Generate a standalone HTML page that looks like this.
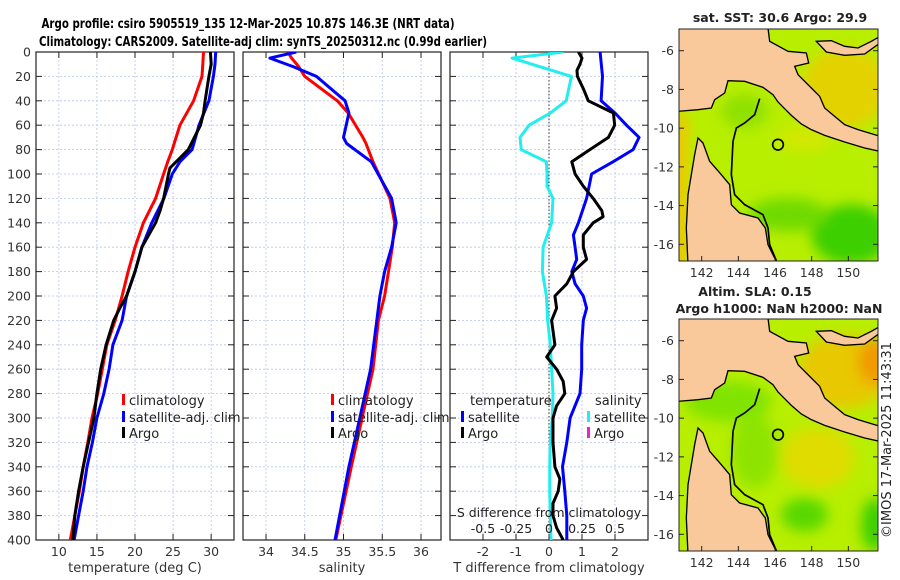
<!DOCTYPE html>
<html><head><meta charset="utf-8"><style>
html,body{margin:0;padding:0;background:#fff;}
svg{display:block;font-family:"DejaVu Sans","Liberation Sans",sans-serif;}
</style></head><body>
<svg id="fig" width="900" height="580" viewBox="0 0 900 580">
<defs>
<clipPath id="c1"><rect x="36" y="52" width="198" height="488"/></clipPath>
<clipPath id="c2"><rect x="243" y="52" width="198" height="488"/></clipPath>
<clipPath id="c3"><rect x="450" y="52" width="198" height="488"/></clipPath>
<clipPath id="m1"><rect x="679" y="29" width="199" height="232"/></clipPath>
<clipPath id="m2"><rect x="679" y="319" width="199" height="232"/></clipPath>
<filter id="blur" x="-50%" y="-50%" width="200%" height="200%"><feGaussianBlur stdDeviation="20"/></filter>
</defs>
<text x="248" y="28" font-size="13" font-weight="bold" text-anchor="middle" textLength="413" lengthAdjust="spacingAndGlyphs">Argo profile: csiro 5905519_135 12-Mar-2025 10.87S 146.3E (NRT data)</text>
<text x="263" y="46" font-size="13" font-weight="bold" text-anchor="middle" textLength="448" lengthAdjust="spacingAndGlyphs">Climatology: CARS2009. Satellite-adj clim: synTS_20250312.nc (0.99d earlier)</text>
<g id="plots"></g>
<g id="maps"></g>
<text transform="translate(891,440) rotate(-90)" font-size="13" text-anchor="middle" fill="#222">©IMOS 17-Mar-2025 11:43:31</text>
</svg>
<script>
// ---- data ----
const tDepth = [0,10,20,40,60,80,90,100,120,140,160,180,200,220,240,260,280,300,320,340,360,380,400];
const tClim  = [29.0,28.9,28.8,27.7,25.9,24.9,24.3,23.75,22.7,21.1,20.0,19.1,18.3,17.4,16.3,15.7,15.1,14.35,13.8,13.2,12.7,12.1,11.5];
const tSat   = [30.6,30.5,30.3,29.7,28.4,27.5,25.9,24.9,23.8,22.2,20.9,20.0,18.9,18.3,17.1,16.6,15.9,15.0,14.4,13.7,13.2,12.6,12.0];
const aDepth = [0,10,20,40,50,60,80,95,100,120,130,140,160,180,200,210,220,240,260,280,300,320,340,360,380,400];
const tArgo  = [29.9,30.0,29.7,29.2,29.0,28.6,27.0,24.6,24.4,23.75,23.3,22.7,20.9,20.0,18.9,18.0,17.2,16.2,15.5,15.0,14.6,13.9,13.2,12.6,12.1,11.86];
const sDepth = [0,5,12,20,40,50,70,75,90,120,140,160,180,200,220,260,300,340,400];
const sClim  = [34.28,34.33,34.42,34.5,34.92,35.06,35.25,35.29,35.38,35.6,35.66,35.63,35.58,35.53,35.45,35.38,35.24,35.1,34.9];
const sSat   = [34.39,34.05,34.35,34.65,35.02,35.07,35.0,35.04,35.36,35.62,35.68,35.62,35.53,35.47,35.43,35.35,35.21,35.07,34.89];
const dDepth = [0,5,20,40,50,60,70,80,90,100,110,120,140,160,180,200,220,240,260,280,300,320,340,360,380,400];
const sSatDiff = [0.11,-0.28,0.17,0.13,0.01,-0.15,-0.22,-0.21,-0.02,-0.015,-0.015,0.03,0.02,-0.045,-0.05,-0.02,-0.01,0.01,0.02,0.03,0.025,0.01,0.005,0.005,0.01,0.015];
const tdDepth = [0,20,40,50,60,70,80,90,100,120,140,150,160,170,180,190,200,210,220,240,260,280,300,320,340,360,380,400];
const tSatDiff = [1.55,1.62,1.58,2.0,2.35,2.73,2.55,1.94,1.29,1.14,0.89,0.74,0.79,0.84,0.69,0.79,1.04,1.14,1.04,0.99,0.99,0.94,0.64,0.54,0.41,0.48,0.54,0.54];
const taDepth = [0,5,10,15,20,30,40,50,60,70,80,90,100,110,120,130,135,140,150,160,170,180,190,200,210,220,240,250,260,270,280,290,300,320,340,350,360,370,380,390,400];
const tArgoDiff = [0.89,1.0,0.94,0.85,0.86,1.04,1.19,1.95,1.99,1.8,1.24,0.69,0.79,1.04,1.34,1.6,1.64,1.34,1.04,1.04,1.14,0.74,0.54,0.18,0.23,0.08,0.18,-0.07,0.23,0.43,0.48,0.23,0.12,0.12,0.18,0.33,0.28,0.12,0.12,0.23,0.43];
const depthTicks = [0,20,40,60,80,100,120,140,160,180,200,220,240,260,280,300,320,340,360,380,400];
const tTicks = [10,15,20,25,30];
const sTicks = [34,34.5,35,35.5,36];
const sTickLabels = ['34','34.5','35','35.5','36'];
const dTicks = [-2,-1,0,1,2];
const sdTicks = [-0.5,-0.25,0,0.25,0.5];
const sdTickLabels = ['-0.5','-0.25','0','0.25','0.5'];
const latTicks = [-6,-8,-10,-12,-14,-16];
const lonTicks = [142,144,146,148,150];

const NS='http://www.w3.org/2000/svg';
function mk(tag, attrs, parent){const e=document.createElementNS(NS,tag);for(const k in attrs)e.setAttribute(k,attrs[k]);(parent||document.getElementById('plots')).appendChild(e);return e;}
const yD = d => 52 + d*1.22;
function lin(d0,d1,r0,r1){return v=>r0+(v-d0)*(r1-r0)/(d1-d0);}
const x1 = lin(7,33,36,234), x2 = lin(33.703,36.258,243,441), x3 = lin(-3,3,450,648);
const x3s = v => x3(v*4);

function panel(x0, xs, ticks, labels, name, showY){
  const g = mk('g',{});
  
  
  ticks.forEach(t=>{mk('line',{x1:xs(t),x2:xs(t),y1:52,y2:540,stroke:'#b8c4ee','stroke-width':0.8,'stroke-dasharray':'2,2'},g);});
  depthTicks.forEach(d=>{
    mk('line',{x1:x0,x2:x0+198,y1:yD(d),y2:yD(d),stroke:'#b8c4ee','stroke-width':0.8,'stroke-dasharray':'2,2'},g);
    mk('line',{x1:x0,x2:x0+6,y1:yD(d),y2:yD(d),stroke:'#222'},g);
    mk('line',{x1:x0+192,x2:x0+198,y1:yD(d),y2:yD(d),stroke:'#222'},g);
    if(showY){const t=mk('text',{x:x0-5,y:yD(d)+4.5,'font-size':12.5,'text-anchor':'end',fill:'#333'},g);t.textContent=d;
      
      }
  });
  ticks.forEach((t,i)=>{
    mk('line',{x1:xs(t),x2:xs(t),y1:534,y2:540,stroke:'#222'},g);
    mk('line',{x1:xs(t),x2:xs(t),y1:52,y2:58,stroke:'#222'},g);
    const tx=mk('text',{x:xs(t),y:556,'font-size':12.5,'text-anchor':'middle',fill:'#333'},g);tx.textContent=labels[i];
    
    
  });
  mk('rect',{x:x0,y:52,width:198,height:488,fill:'none',stroke:'#222','stroke-width':1.2},g);
  return g;
}
function line(depths, vals, xs, color, clip, name, w){
  const p = depths.map((d,i)=>(i?'L':'M')+xs(vals[i]).toFixed(1)+','+yD(d).toFixed(1)).join('');
  const e = mk('path',{d:p,fill:'none',stroke:color,'stroke-width':w||3,'stroke-linejoin':'round','clip-path':'url(#'+clip+')'});
  
  
}
function txt(x,y,s,opts,name){const t=mk('text',Object.assign({x:x,y:y,'font-size':13,fill:'#222'},opts||{}));t.textContent=s;
  
  return t;}
function legend(x,y,color,label,name){
  const r=mk('rect',{x:x,y:y-7,width:3,height:11,fill:color});
  
  
  txt(x+7,y+4,label,{},name+'-label');
}

panel(36,x1,tTicks,tTicks.map(String),'temperature',true);
panel(243,x2,sTicks,sTickLabels,'salinity',false);
panel(450,x3,dTicks,dTicks.map(String),'difference',false);
const z=mk('line',{x1:x3(0),x2:x3(0),y1:52,y2:540,stroke:'#333','stroke-width':1,'stroke-dasharray':'1.5,2'});



line(tDepth,tClim,x1,'#ff0000','c1','temp-climatology-line');
line(tDepth,tSat,x1,'#0000ff','c1','temp-satellite-line');
line(aDepth,tArgo,x1,'#000','c1','temp-argo-line');
line(sDepth,sClim,x2,'#ff0000','c2','sal-climatology-line');
line(sDepth,sSat,x2,'#0000ff','c2','sal-satellite-line');
line(dDepth,sSatDiff,x3s,'#22eeee','c3','sal-satellite-diff-line');
line(tdDepth,tSatDiff,x3,'#0000ff','c3','temp-satellite-diff-line');
line(taDepth,tArgoDiff,x3,'#000','c3','temp-argo-diff-line');

legend(122,401,'#ff0000','climatology','legend-t-climatology');
legend(122,418,'#0000ff','satellite-adj. clim','legend-t-satellite');
legend(122,434,'#000','Argo','legend-t-argo');
legend(331,401,'#ff0000','climatology','legend-s-climatology');
legend(331,418,'#0000ff','satellite-adj. clim','legend-s-satellite');
legend(331,434,'#000','Argo','legend-s-argo');
txt(470,405,'temperature',{},'legend-temperature-heading');
legend(461,418,'#0000ff','satellite','legend-d-t-satellite');
legend(461,434,'#000','Argo','legend-d-t-argo');
txt(595,405,'salinity',{},'legend-salinity-heading');
legend(587,418,'#22eeee','satellite','legend-d-s-satellite');
legend(587,434,'#ee22cc','Argo','legend-d-s-argo');

txt(549,517,'S difference from climatology',{'text-anchor':'middle','font-size':12.5},'s-diff-axis-title');
sdTicks.forEach((t,i)=>txt(x3s(t),533,sdTickLabels[i],{'text-anchor':'middle','font-size':12.5},'s-diff-tick-label'));
txt(135,572,'temperature (deg C)',{'text-anchor':'middle','font-size':13,fill:'#333'},'x-axis-title-temperature');
txt(342,572,'salinity',{'text-anchor':'middle','font-size':13,fill:'#333'},'x-axis-title-salinity');
txt(549,572,'T difference from climatology',{'text-anchor':'middle','font-size':13,fill:'#333'},'x-axis-title-difference');

// ---- maps (shapes in 3x zoom coordinates of frame) ----
const landMain = "0,0 270,0 275,40 330,70 385,75 392,105 350,115 360,140 400,180 425,205 440,240 470,265 500,290 540,305 606,325 606,370 560,360 500,342 440,322 400,305 370,288 340,262 320,242 300,222 285,200 255,178 200,160 150,158 140,195 110,215 100,240 60,245 0,250";
const landIsland = "415,40 460,38 500,55 540,60 580,40 606,25 606,45 560,78 500,82 445,72";
const landCY = "60,330 75,345 95,400 130,440 155,470 160,530 185,555 240,570 262,600 270,650 300,710 30,710 25,600 30,500 40,440 50,380";
const isobath = "M245,212 L230,260 L200,285 L175,300 L165,340 L160,440 L170,500 L200,530 L255,560 L270,600 L275,650 L300,710";
function map(top, clip, which, titles){
  const mg=document.getElementById('maps');
  const g=mk('g',{'clip-path':'url(#'+clip+')'},mg);
  
  
  const t=mk('g',{transform:'translate(678,'+(top-1)+') scale(0.33333)'},g);
  mk('rect',{x:0,y:0,width:610,height:710,fill:'#b8ee00'},t);
  const bl=mk('g',{filter:'url(#blur)'},t);
  if(which==='sst'){
    mk('rect',{x:-20,y:260,width:50,height:460,fill:'#f2c400'},bl);
    mk('ellipse',{cx:500,cy:180,rx:130,ry:120,fill:'#e4d200'},bl);
    mk('ellipse',{cx:520,cy:620,rx:120,ry:90,fill:'#3ecf00'},bl);
    mk('ellipse',{cx:330,cy:560,rx:120,ry:50,fill:'#70da00'},bl);
    mk('ellipse',{cx:200,cy:250,rx:70,ry:50,fill:'#90e000'},bl);
    mk('ellipse',{cx:380,cy:330,rx:80,ry:40,fill:'#d2e800'},bl);
  } else {
    mk('ellipse',{cx:500,cy:160,rx:140,ry:110,fill:'#e8c800'},bl);
    mk('ellipse',{cx:590,cy:130,rx:50,ry:70,fill:'#f09a00'},bl);
    mk('ellipse',{cx:420,cy:420,rx:110,ry:90,fill:'#e0dc00'},bl);
    mk('ellipse',{cx:380,cy:590,rx:70,ry:50,fill:'#58d800'},bl);
    mk('ellipse',{cx:590,cy:620,rx:40,ry:80,fill:'#3ecf00'},bl);
    mk('ellipse',{cx:150,cy:250,rx:130,ry:60,fill:'#80e400'},bl);
    mk('ellipse',{cx:230,cy:400,rx:70,ry:110,fill:'#8ee400'},bl);
  }
  [landMain,landIsland,landCY].forEach(pts=>mk('polygon',{points:pts,fill:'#f9c89b',stroke:'#000','stroke-width':4},t));
  mk('path',{d:isobath,fill:'none',stroke:'#000','stroke-width':5},t);
  mk('circle',{cx:300,cy:350,r:16,fill:'none',stroke:'#000','stroke-width':5},t);
  const fr=mk('rect',{x:679,y:top,width:199,height:232,fill:'none',stroke:'#222','stroke-width':1},mg);
  
  
  const latY = lat => top + 21.7 + (-6-lat)*19.36;
  const lonX = lon => 701.7 + (lon-142)*18.33;
  latTicks.forEach(l=>{mk('line',{x1:679,x2:684,y1:latY(l),y2:latY(l),stroke:'#222'},mg);mk('line',{x1:873,x2:878,y1:latY(l),y2:latY(l),stroke:'#222'},mg);
    const e=txt(674,latY(l)+4.5,String(l),{'text-anchor':'end','font-size':12.5,fill:'#333'},which+'-lat-tick-label');mg.appendChild(e);});
  lonTicks.forEach(l=>{mk('line',{x1:lonX(l),x2:lonX(l),y1:top+227,y2:top+232,stroke:'#222'},mg);
    const e=txt(lonX(l),top+248,String(l),{'text-anchor':'middle','font-size':12.5,fill:'#333'},which+'-lon-tick-label');mg.appendChild(e);});
  titles.forEach((s,i)=>{const e=txt(s[1],s[2],s[0],{'text-anchor':'middle','font-size':12.5,'font-weight':'bold'},which+'-map-title');mg.appendChild(e);});
}
map(29,'m1','sst',[['sat. SST: 30.6 Argo: 29.9',780,22]]);
map(319,'m2','sla',[['Altim. SLA: 0.15',755,296],['Argo h1000: NaN h2000: NaN',779,313]]);
</script>
</body></html>
